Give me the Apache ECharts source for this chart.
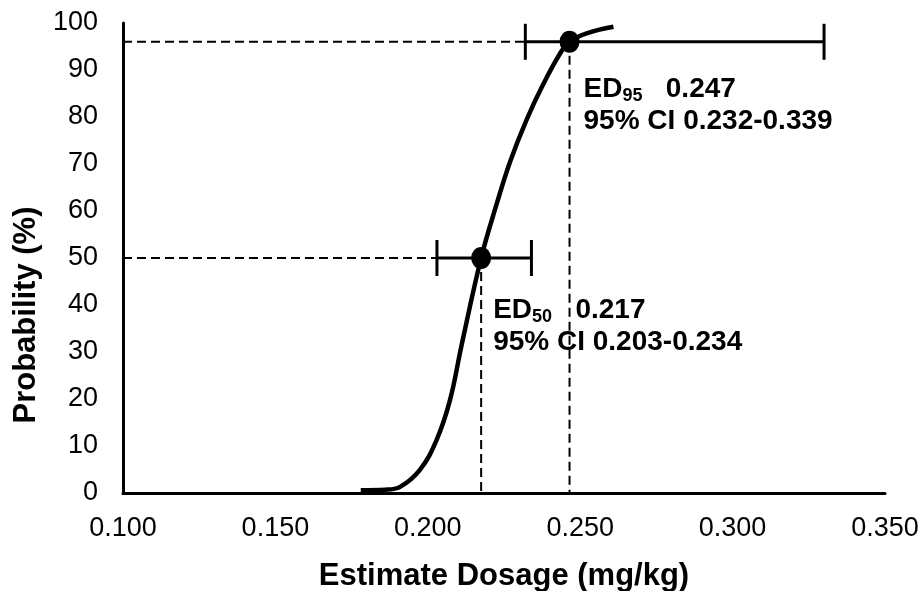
<!DOCTYPE html>
<html>
<head>
<meta charset="utf-8">
<script src="https://cdn.jsdelivr.net/npm/echarts@6/dist/echarts.min.js"></script>
<style>
  html, body { margin: 0; padding: 0; background: #fff; }
  #chart { width: 923px; height: 591px; }
</style>
</head>
<body>
<div id="chart"></div>
<script>
  // dose-response curve
  const curveX = [0.178, 0.186, 0.1909, 0.1974, 0.2029, 0.2073, 0.2111, 0.2175, 0.2226, 0.227, 0.2324, 0.2379, 0.2434, 0.2465, 0.2521, 0.2609]
  const curveY = [0.6, 0.7, 1.3, 4.9, 11.3, 19.8, 31.5, 50, 61.5, 70.5, 79.4, 87, 93.5, 96, 97.8, 99.2]

  // ED points and their confidence intervals
  const edSub = ['50', '95']
  const edDose = [0.2175, 0.2465]
  const edText = ['0.217', '0.247']
  const edProb = [50, 96]
  const ciLow = [0.203, 0.232]
  const ciHigh = [0.234, 0.330]
  const ciText = ['0.203-0.234', '0.232-0.339']
  const labelPos = [[22, 47], [24, 42]]

  const xTicks = [0.100, 0.150, 0.200, 0.250, 0.300, 0.350]
  const yTicks = [0, 10, 20, 30, 40, 50, 60, 70, 80, 90, 100]

  const font = 'Liberation Sans, Arial, sans-serif'

  let guides = []
  for (let i = 0; i < edDose.length; i++) {
    guides.push({
      type: 'line',
      data: [[xTicks[0], edProb[i]], [ciLow[i], edProb[i]]],
      symbol: 'none',
      silent: true,
      z: 1,
      lineStyle: { color: '#000', width: 2, type: [9, 5] }
    })
    guides.push({
      type: 'line',
      data: [[edDose[i], edProb[i]], [edDose[i], yTicks[0]]],
      symbol: 'none',
      silent: true,
      z: 1,
      lineStyle: { color: '#000', width: 2, type: [9, 5] }
    })
  }

  let myecharts = echarts.init(document.getElementById('chart'))
  myecharts.setOption({
    animation: false,
    grid: { left: 123, right: 38, top: 23, bottom: 98, outerBoundsMode: 'none' },
    xAxis: {
      type: 'value',
      min: 0.1,
      max: 0.35,
      interval: 0.05,
      name: 'Estimate Dosage (mg/kg)',
      nameLocation: 'middle',
      nameGap: 68,
      nameTextStyle: { color: '#000', fontSize: 31, fontWeight: 'bold', fontFamily: font },
      axisLine: { onZero: false, lineStyle: { color: '#000', width: 3 } },
      axisTick: { show: false },
      splitLine: { show: false },
      axisLabel: {
        color: '#000', fontSize: 27, fontFamily: font, margin: 22,
        formatter: function (v) { return v.toFixed(3) }
      }
    },
    yAxis: {
      type: 'value',
      min: 0,
      max: 100,
      interval: 10,
      name: 'Probability (%)',
      nameLocation: 'middle',
      nameGap: 78,
      nameTextStyle: {
        color: '#000', fontSize: 31, fontWeight: 'bold', fontFamily: font,
        padding: [0, 114, 0, 0]
      },
      axisLine: { show: true, lineStyle: { color: '#000', width: 3 } },
      axisTick: { show: false },
      splitLine: { show: false },
      axisLabel: { color: '#000', fontSize: 27, fontFamily: font, margin: 25 }
    },
    series: guides.concat([
      {
        type: 'line',
        data: curveX.map((x, i) => [x, curveY[i]]),
        smooth: 0.4,
        symbol: 'none',
        z: 3,
        lineStyle: { color: '#000', width: 4.5 }
      },
      {
        type: 'custom',
        z: 4,
        data: ciLow.map((lo, i) => [lo, ciHigh[i], edProb[i]]),
        encode: { x: [0, 1], y: 2 },
        renderItem: function (params, api) {
          let a = api.coord([api.value(0), api.value(2)])
          let b = api.coord([api.value(1), api.value(2)])
          let h = 18
          let style = { stroke: '#000', lineWidth: 3 }
          return {
            type: 'group',
            children: [
              { type: 'line', shape: { x1: a[0], y1: a[1], x2: b[0], y2: b[1] }, style: style },
              { type: 'line', shape: { x1: a[0], y1: a[1] - h, x2: a[0], y2: a[1] + h }, style: style },
              { type: 'line', shape: { x1: b[0], y1: b[1] - h, x2: b[0], y2: b[1] + h }, style: style }
            ]
          }
        }
      },
      {
        type: 'scatter',
        z: 5,
        symbolSize: [20, 22],
        itemStyle: { color: '#000', opacity: 1 },
        data: edDose.map((x, i) => ({
          value: [x, edProb[i]],
          label: {
            show: true,
            position: labelPos[i],
            align: 'left',
            verticalAlign: 'top',
            formatter: '{ed|ED}{sub|' + edSub[i] + '}{ed|   ' + edText[i] + '}\n{ed|95% CI ' + ciText[i] + '}',
            rich: {
              ed: { color: '#000', fontSize: 28, fontWeight: 'bold', fontFamily: font, lineHeight: 32 },
              sub: { color: '#000', fontSize: 18, fontWeight: 'bold', fontFamily: font, lineHeight: 14, verticalAlign: 'bottom' }
            }
          }
        }))
      }
    ])
  })
</script>
</body>
</html>
